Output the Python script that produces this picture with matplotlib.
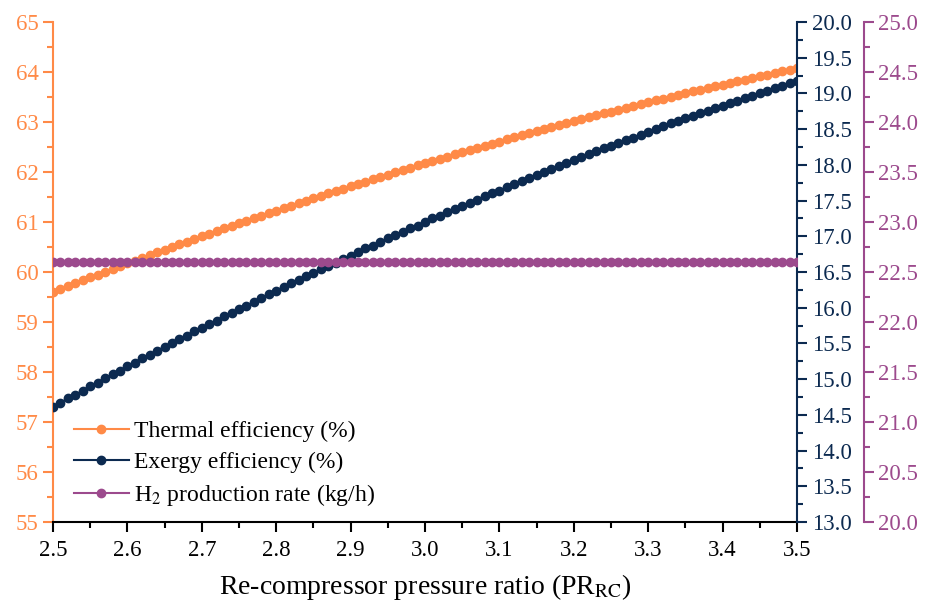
import numpy as np
import matplotlib
matplotlib.use("Agg")
import matplotlib.pyplot as plt
from matplotlib.ticker import MultipleLocator, FormatStrFormatter

# data
pr_rc = np.round(np.arange(2.50, 3.505, 0.01), 2)

thermal_eff = [
    59.60, 59.66, 59.72, 59.77, 59.83, 59.89, 59.94, 60.00, 60.06, 60.11,
    60.17, 60.22, 60.28, 60.33, 60.39, 60.44, 60.50, 60.55, 60.60, 60.66,
    60.71, 60.76, 60.81, 60.87, 60.92, 60.97, 61.02, 61.07, 61.12, 61.17,
    61.22, 61.27, 61.32, 61.37, 61.42, 61.47, 61.52, 61.57, 61.61, 61.66,
    61.71, 61.76, 61.80, 61.85, 61.90, 61.94, 61.99, 62.03, 62.08, 62.13,
    62.17, 62.21, 62.26, 62.30, 62.35, 62.39, 62.43, 62.48, 62.52, 62.56,
    62.60, 62.65, 62.69, 62.73, 62.77, 62.81, 62.85, 62.89, 62.93, 62.97,
    63.01, 63.05, 63.09, 63.13, 63.17, 63.20, 63.24, 63.28, 63.32, 63.35,
    63.39, 63.43, 63.46, 63.50, 63.53, 63.57, 63.61, 63.64, 63.68, 63.71,
    63.74, 63.78, 63.81, 63.84, 63.88, 63.91, 63.94, 63.97, 64.01, 64.04,
    64.07,
]

exergy_eff = [
    14.61, 14.67, 14.73, 14.78, 14.84, 14.90, 14.95, 15.01, 15.07, 15.12,
    15.18, 15.23, 15.29, 15.34, 15.40, 15.45, 15.51, 15.56, 15.61, 15.67,
    15.72, 15.77, 15.82, 15.88, 15.93, 15.98, 16.03, 16.08, 16.14, 16.19,
    16.24, 16.29, 16.34, 16.39, 16.44, 16.49, 16.54, 16.59, 16.63, 16.68,
    16.73, 16.78, 16.83, 16.87, 16.92, 16.97, 17.02, 17.06, 17.11, 17.15,
    17.20, 17.25, 17.29, 17.34, 17.38, 17.43, 17.47, 17.51, 17.56, 17.60,
    17.64, 17.69, 17.73, 17.77, 17.82, 17.86, 17.90, 17.94, 17.98, 18.02,
    18.07, 18.11, 18.15, 18.19, 18.23, 18.27, 18.31, 18.35, 18.38, 18.42,
    18.46, 18.50, 18.54, 18.58, 18.61, 18.65, 18.69, 18.72, 18.76, 18.80,
    18.83, 18.87, 18.90, 18.94, 18.97, 19.01, 19.04, 19.08, 19.11, 19.15,
    19.18,
]

# H2 production rate stays flat over the whole range
h2_rate = [22.6] * 101

orange = "#FF8A47"
navy = "#0C2A50"
purple = "#9C4A8D"

plt.rcParams["font.family"] = ["Liberation Serif", "DejaVu Serif"]
plt.rcParams["mathtext.fontset"] = "stix"
plt.rcParams["axes.linewidth"] = 1.5

fig = plt.figure(figsize=(9.25, 6.09), dpi=100)
ax = fig.add_axes([0.0573, 0.1429, 0.8043, 0.821])
ax2 = ax.twinx()
ax3 = ax.twinx()
ax3.spines["right"].set_position(("outward", 48))

l1, = ax.plot(pr_rc, thermal_eff, color=orange, marker="o", markersize=6,
              linewidth=1.5, label="Thermal efficiency (%)")
l2, = ax2.plot(pr_rc, exergy_eff, color=navy, marker="o", markersize=6,
               linewidth=1.5, label="Exergy efficiency (%)")
l3, = ax3.plot(pr_rc, h2_rate, color=purple, marker="o", markersize=6,
               linewidth=1.5, label=r"H$_2$ production rate (kg/h)")

# axes limits and ticks
ax.set_xlim(2.5, 3.5)
ax.set_ylim(55, 65)
ax2.set_ylim(13, 20)
ax3.set_ylim(20, 25)

ax.xaxis.set_major_locator(MultipleLocator(0.1))
ax.xaxis.set_minor_locator(MultipleLocator(0.05))
ax.xaxis.set_major_formatter(FormatStrFormatter("%.1f"))
ax.yaxis.set_major_locator(MultipleLocator(1))
ax.yaxis.set_minor_locator(MultipleLocator(0.5))
ax2.yaxis.set_major_locator(MultipleLocator(0.5))
ax2.yaxis.set_minor_locator(MultipleLocator(0.25))
ax2.yaxis.set_major_formatter(FormatStrFormatter("%.1f"))
ax3.yaxis.set_major_locator(MultipleLocator(0.5))
ax3.yaxis.set_minor_locator(MultipleLocator(0.25))
ax3.yaxis.set_major_formatter(FormatStrFormatter("%.1f"))

for a in (ax, ax2, ax3):
    a.spines["top"].set_visible(False)
    a.tick_params(which="major", direction="out", length=7, width=1.5, labelsize=16.5)
    a.tick_params(which="minor", direction="out", length=4, width=1.5)
ax.tick_params(axis="x", pad=6)

# spine colours
ax.spines["left"].set_color(orange)
ax.spines["right"].set_visible(False)
ax.tick_params(axis="y", which="both", colors=orange)
ax2.spines["left"].set_visible(False)
ax2.spines["bottom"].set_visible(False)
ax2.spines["right"].set_color(navy)
ax2.tick_params(axis="y", which="both", colors=navy)
ax3.spines["left"].set_visible(False)
ax3.spines["bottom"].set_visible(False)
ax3.spines["right"].set_color(purple)
ax3.tick_params(axis="y", which="both", colors=purple)

ax.set_xlabel(r"Re-compressor pressure ratio (PR$_{\mathrm{RC}}$)", fontsize=20, labelpad=8)

ax.legend(handles=[l1, l2, l3], loc="lower left", bbox_to_anchor=(0.0, -0.015),
          frameon=False, fontsize=17, handlelength=2.3, handletextpad=0.25,
          labelspacing=0.4)

fig.savefig("out.png", dpi=100)
